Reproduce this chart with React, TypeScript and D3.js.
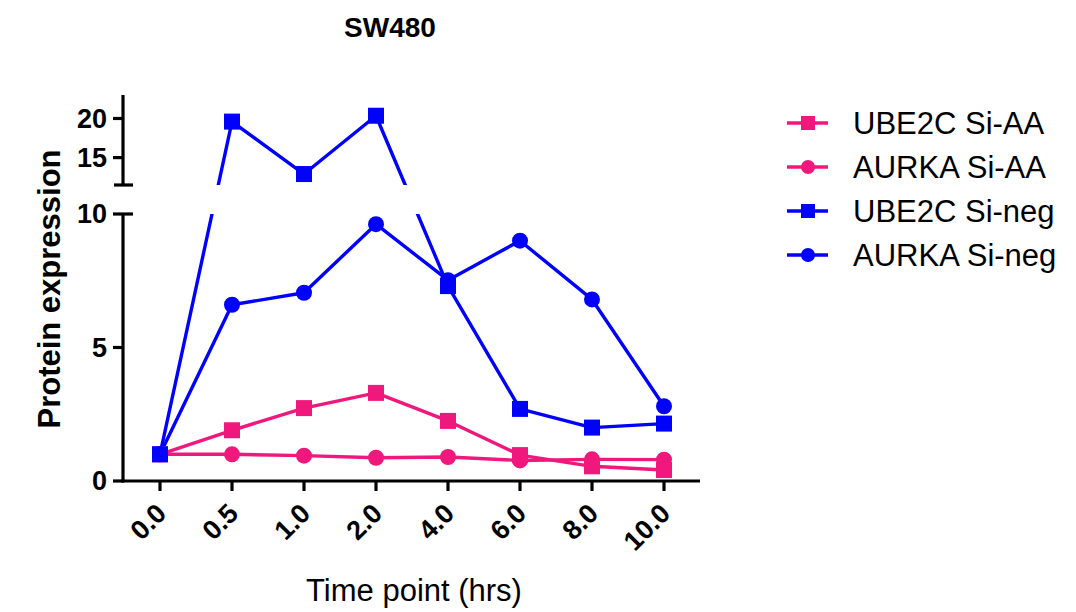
import React from "react";
import * as d3 from "d3";

const categories = ["0.0", "0.5", "1.0", "2.0", "4.0", "6.0", "8.0", "10.0"];
const ube2cSiAA = [1.0, 1.9, 2.73, 3.3, 2.25, 0.97, 0.55, 0.41];
const aurkaSiAA = [1.0, 1.0, 0.95, 0.87, 0.9, 0.77, 0.81, 0.8];
const ube2cSiNeg = [1.0, 19.6, 12.9, 20.35, 7.3, 2.7, 2.0, 2.15];
const aurkaSiNeg = [1.0, 6.6, 7.05, 9.62, 7.52, 9.0, 6.8, 2.8];
const lowerTicks = [0, 5, 10];
const upperTicks = [15, 20];
const seriesNames = ["UBE2C Si-AA", "AURKA Si-AA", "UBE2C Si-neg", "AURKA Si-neg"];

const PINK = "#F0187C";
const BLUE = "#0000FF";
const FONT = "'Liberation Sans', Arial, Helvetica, sans-serif";

const series = [
  { name: seriesNames[0], values: ube2cSiAA, color: PINK, shape: "square" },
  { name: seriesNames[1], values: aurkaSiAA, color: PINK, shape: "circle" },
  { name: seriesNames[2], values: ube2cSiNeg, color: BLUE, shape: "square" },
  { name: seriesNames[3], values: aurkaSiNeg, color: BLUE, shape: "circle" },
];

const axisX = 123;
const lowerTop = 214;
const lowerBottom = 481;
const upperTop = 95;
const upperBottom = 185;

const x = d3.scalePoint<string>().domain(categories).range([160, 664]);
const yLower = d3.scaleLinear().domain([0, 10]).range([lowerBottom, lowerTop]);
const yUpper = d3.scaleLinear().domain([11.5, 23]).range([upperBottom, upperTop]);
const yGap = d3.scaleLinear().domain([10, 11.5]).range([lowerTop, upperBottom]);
const y = (v: number) => (v <= 10 ? yLower(v) : v >= 11.5 ? yUpper(v) : yGap(v));

function Marker({ shape, cx, cy, color, size }: { shape: string; cx: number; cy: number; color: string; size: number }) {
  if (shape === "square") {
    return <rect x={cx - size / 2} y={cy - size / 2} width={size} height={size} fill={color} />;
  }
  return <circle cx={cx} cy={cy} r={size / 2} fill={color} />;
}

export default function App() {
  const line = d3
    .line<number>()
    .x((_, i) => x(categories[i]) as number)
    .y((d) => y(d));

  const drawOrder = [3, 2, 1, 0];
  const legendY = [123, 167, 211, 255];

  return (
    <svg width={1076} height={612} style={{ position: "absolute", left: 0, top: 0, background: "#fff" }}>
      <defs>
        <clipPath id="breakClip">
          <rect x={0} y={0} width={1076} height={upperBottom} />
          <rect x={0} y={lowerTop} width={1076} height={612 - lowerTop} />
        </clipPath>
      </defs>
      <rect x={0} y={0} width={1076} height={612} fill="#fff" />

      <text x={390} y={37} textAnchor="middle" fontFamily={FONT} fontWeight="bold" fontSize={28}>
        SW480
      </text>

      {/* lines */}
      <g clipPath="url(#breakClip)">
        {drawOrder.map((si) => (
          <path
            key={"l" + si}
            d={line(series[si].values) || ""}
            fill="none"
            stroke={series[si].color}
            strokeWidth={3.4}
            strokeLinejoin="round"
          />
        ))}
      </g>
      {/* markers */}
      {[1, 0, 3, 2].map((si) => (
        <g key={"m" + si}>
          {series[si].values.map((v, i) => (
            <Marker key={i} shape={series[si].shape} cx={x(categories[i]) as number} cy={y(v)} color={series[si].color} size={16} />
          ))}
        </g>
      ))}

      {/* Y axis */}
      <g stroke="#000" strokeWidth={3.2} fill="none">
        <line x1={axisX} x2={axisX} y1={upperTop} y2={upperBottom} />
        <line x1={axisX - 9} x2={axisX + 10} y1={upperBottom} y2={upperBottom} />
        <line x1={axisX} x2={axisX} y1={lowerTop} y2={lowerBottom + 1.5} />
        <line x1={axisX} x2={axisX + 10} y1={lowerTop} y2={lowerTop} />
        {upperTicks.map((t) => (
          <line key={"ut" + t} x1={axisX - 10} x2={axisX} y1={yUpper(t)} y2={yUpper(t)} />
        ))}
        {lowerTicks.map((t) => (
          <line key={"lt" + t} x1={axisX - 10} x2={axisX} y1={yLower(t)} y2={yLower(t)} />
        ))}
        <line x1={axisX - 1.5} x2={700} y1={lowerBottom} y2={lowerBottom} />
        {categories.map((c) => (
          <line key={"xt" + c} x1={x(c) as number} x2={x(c) as number} y1={lowerBottom} y2={lowerBottom + 10} />
        ))}
      </g>
      <g fontFamily={FONT} fontWeight="bold" fontSize={27} textAnchor="end">
        {upperTicks.map((t) => (
          <text key={"utl" + t} x={107} y={yUpper(t)} dy="0.35em">
            {t}
          </text>
        ))}
        {lowerTicks.map((t) => (
          <text key={"ltl" + t} x={107} y={yLower(t)} dy="0.35em">
            {t}
          </text>
        ))}
        {categories.map((c) => (
          <text key={"xl" + c} transform={`translate(${(x(c) as number) + 8},${515}) rotate(-45)`}>
            {c}
          </text>
        ))}
      </g>

      <text
        transform={`translate(60,289) rotate(-90)`}
        textAnchor="middle"
        fontFamily={FONT}
        fontWeight="bold"
        fontSize={31}
      >
        Protein expression
      </text>
      <text x={414} y={601} textAnchor="middle" fontFamily={FONT} fontSize={31}>
        Time point (hrs)
      </text>

      {/* legend */}
      {series.map((s, i) => (
        <g key={"lg" + i}>
          <line x1={787} x2={828} y1={legendY[i]} y2={legendY[i]} stroke={s.color} strokeWidth={3.5} />
          <Marker shape={s.shape} cx={808} cy={legendY[i]} color={s.color} size={14} />
          <text x={853} y={legendY[i] + 10.5} fontFamily={FONT} fontSize={31}>
            {s.name}
          </text>
        </g>
      ))}
    </svg>
  );
}
